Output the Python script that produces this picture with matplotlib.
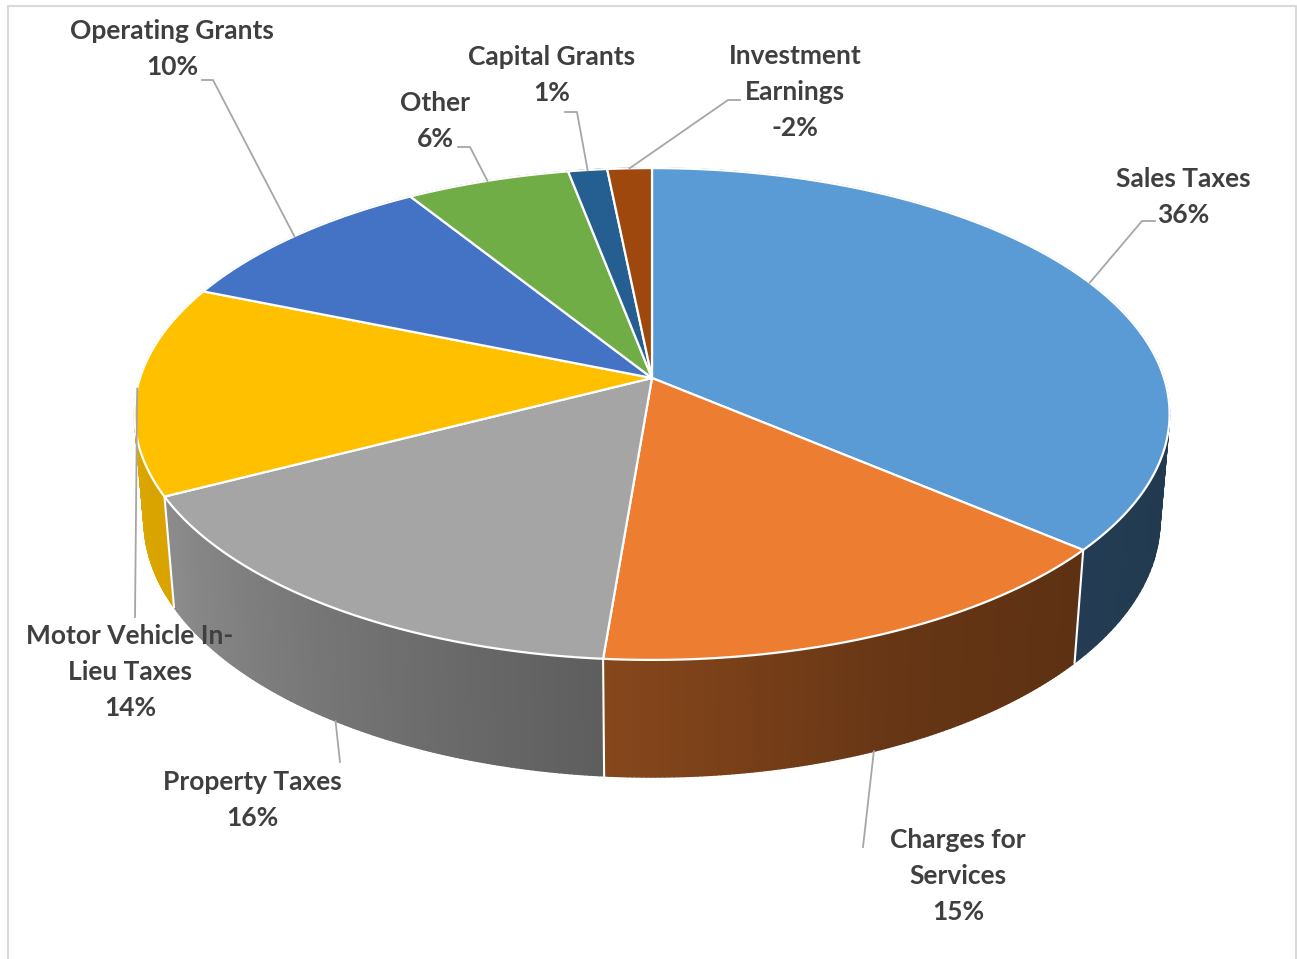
import numpy as np
import matplotlib.pyplot as plt
from matplotlib.collections import PolyCollection
from matplotlib.colors import to_rgb

# ---- data ----
categories = ['Sales Taxes', 'Charges for\nServices', 'Property Taxes', 'Motor Vehicle In-\nLieu Taxes',
              'Operating Grants', 'Other', 'Capital Grants', 'Investment\nEarnings']
values = [36.2, 15.1, 16.1, 13.8, 9.9, 5.9, 1.4, -1.6]
colors = ['#5B9BD5', '#ED7D31', '#A5A5A5', '#FFC000', '#4472C4', '#70AD47', '#255E91', '#9E480E']

# label placement (pixel space) and leader elbows
label_xy = [(1183, 197), (958, 876), (252, 800), (130, 672), (172, 49), (435, 121), (552, 75), (795, 92)]
leader_pts = [[(1142, 221), (1155, 221)], [(863, 847)], [(340, 762)], [(135, 617)],
              [(213, 80), (202, 80)], [(470, 147), (458, 147)], [(577, 112), (565, 112)],
              [(728, 100), (740, 100)]]
anchor_on_bottom = [False, True, True, False, False, False, False, False]

# ---- 3d pie geometry ----
CX, CY = 652, 378
W, D = 512, 6.03
SA = 0.47
CA = np.sqrt(1 - SA ** 2)
H = 0.2376


def project(theta, z):
    t = np.radians(theta)
    x3, y3 = np.cos(t), np.sin(t)
    v = y3 * SA + z * CA
    w = y3 * CA - z * SA
    s = W * D / (D + w)
    return CX + x3 * s, CY - v * s


def shade(theta):
    a = ((np.asarray(theta) + 180) % 360) - 180
    return np.interp(a, [-180, -152, -95, -65, -40, 0, 90, 180],
                     [0.88, 0.85, 0.57, 0.43, 0.39, 0.36, 0.5, 0.88])


fig = plt.figure(figsize=(12.97, 9.59), dpi=100)
ax = fig.add_axes([0, 0, 1, 1])
ax.set_xlim(0, 1297)
ax.set_ylim(959, 0)
ax.axis('off')

total = sum(abs(v) for v in values)
bounds = 90 - np.concatenate([[0], np.cumsum(np.abs(values))]) / total * 360

# side walls, painted far to near
quads, qcols, depth = [], [], []
for i in range(len(values)):
    ts = np.linspace(bounds[i], bounds[i + 1], 120)
    base = np.array(to_rgb(colors[i]))
    for t0, t1 in zip(ts[:-1], ts[1:]):
        xa, ya = project(t0, 0)
        xb, yb = project(t1, 0)
        xc, yc = project(t1, -H)
        xd, yd = project(t0, -H)
        quads.append([(xa, ya), (xb, yb), (xc, yc), (xd, yd)])
        qcols.append(np.clip(base * shade((t0 + t1) / 2), 0, 1))
        depth.append(np.sin(np.radians((t0 + t1) / 2)))
order = np.argsort(depth)[::-1]
pc = PolyCollection([quads[k] for k in order], facecolors=[qcols[k] for k in order],
                    edgecolors=[qcols[k] for k in order], linewidths=1.0, zorder=1)
ax.add_collection(pc)

for b in bounds[:-1]:
    if np.sin(np.radians(b)) < 0.05:
        x0, y0 = project(b, 0)
        x1, y1 = project(b, -H)
        ax.plot([x0, x1], [y0, y1], color='white', lw=1.5, zorder=2)

# top faces
for i in range(len(values)):
    ts = np.linspace(bounds[i], bounds[i + 1], 200)
    xs, ys = project(ts, 0)
    poly = np.column_stack([np.r_[CX, xs], np.r_[CY, ys]])
    ax.add_patch(plt.Polygon(poly, closed=True, facecolor=colors[i], edgecolor='white',
                             lw=1.6, joinstyle='round', zorder=3))

# leader lines + labels
for i in range(len(values)):
    mid = (bounds[i] + bounds[i + 1]) / 2
    ax0, ay0 = project(mid, -H if anchor_on_bottom[i] else 0)
    pts = [(ax0, ay0)] + leader_pts[i]
    ax.plot([p[0] for p in pts], [p[1] for p in pts], color='#A6A6A6', lw=1.3, zorder=4)
    txt = categories[i] + '\n' + f'{round(values[i])}%'
    ax.text(label_xy[i][0], label_xy[i][1], txt, ha='center', va='center', fontsize=19,
            fontfamily='Lato', fontweight='bold', color='#3F3F3F', linespacing=1.6, zorder=5)

# chart frame
ax.plot([8, 8, 1296, 1296], [970, 6, 6, 970], color='#D9D9D9', lw=1.5, zorder=0)

fig.savefig('out.png', dpi=100)
